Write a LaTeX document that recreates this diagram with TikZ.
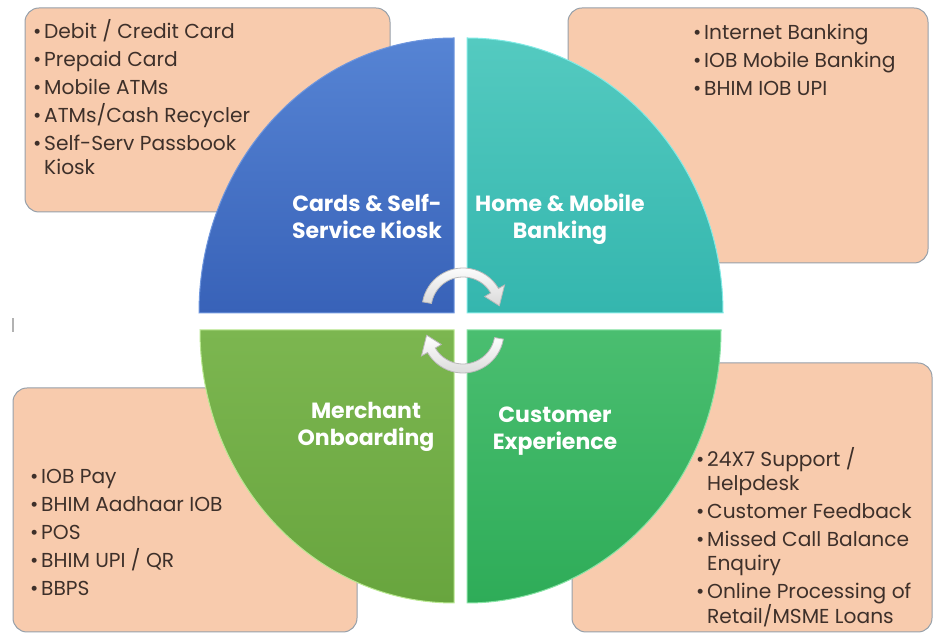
\documentclass[tikz,border=0pt]{standalone}
\usepackage{fontspec}
\setmainfont{Poppins}
\usepackage{xcolor}
\usetikzlibrary{positioning}

\definecolor{peach}{RGB}{248,203,173}
\definecolor{boxline}{RGB}{150,160,170}
\definecolor{ink}{RGB}{62,48,42}
\definecolor{bluetop}{RGB}{86,132,212}
\definecolor{bluebot}{RGB}{56,98,184}
\definecolor{bluerim}{RGB}{110,150,222}
\definecolor{tealtop}{RGB}{84,202,192}
\definecolor{tealbot}{RGB}{52,182,174}
\definecolor{tealrim}{RGB}{130,235,230}
\definecolor{lgrtop}{RGB}{124,182,80}
\definecolor{lgrbot}{RGB}{104,165,62}
\definecolor{lgrrim}{RGB}{185,232,145}
\definecolor{dgrtop}{RGB}{74,190,112}
\definecolor{dgrbot}{RGB}{46,172,88}
\definecolor{dgrrim}{RGB}{135,228,165}

\newcommand{\bul}{\makebox[11pt][l]{\textbullet}}
\newcommand{\ind}{\hspace*{11pt}}

\begin{document}
\begin{tikzpicture}[x=1pt,y=1pt,
	box/.style={rectangle, rounded corners=14pt, draw=boxline, line width=1pt, fill=peach, inner sep=0pt},
	list/.style={anchor=north west, inner sep=0pt, align=left, text=ink, font=\fontsize{20.2}{24}\selectfont},
	lbl/.style={align=center, inner sep=0pt, text=white, font=\bfseries\fontsize{22}{27}\selectfont},
	turn/.style={draw=gray!55, line width=0.8pt, top color=white, bottom color=gray!30}]
		\useasboundingbox (0,0) rectangle (938,637);
		
		% boxes behind the circle
		\node [box, minimum width=365pt, minimum height=204pt] (cb) at (207.5,527) {};
		\node [box, minimum width=360pt, minimum height=255pt] (hb) at (748,501.5) {};
		\node [box, minimum width=344pt, minimum height=244pt] (mb) at (185,127) {};
		\node [box, minimum width=360pt, minimum height=269pt] (eb) at (752,139.5) {};
		
		% four quarters
		\draw [draw=bluerim, line width=1pt, top color=bluetop, bottom color=bluebot] (454,324) -- (199,324) arc[start angle=180, end angle=90, x radius=255, y radius=275] -- cycle;
		\draw [draw=tealrim, line width=1pt, top color=tealtop, bottom color=tealbot] (467,324) -- (467,599) arc[start angle=90, end angle=0, x radius=256, y radius=275] -- cycle;
		\draw [draw=lgrrim, line width=1pt, top color=lgrtop, bottom color=lgrbot] (454,307) -- (200,307) arc[start angle=180, end angle=270, x radius=254, y radius=273] -- cycle;
		\draw [draw=dgrrim, line width=1pt, top color=dgrtop, bottom color=dgrbot] (467,307) -- (721,307) arc[start angle=0, end angle=-90, x radius=254, y radius=273] -- cycle;
		
		\node [lbl] (cards) at (367,420.5) {Cards \& Self-\\Service Kiosk};
		\node [lbl] (home) at (560,418) {Home \& Mobile\\Banking};
		\node [lbl] (merch) at (366,210) {Merchant\\Onboarding};
		\node [lbl] (cust) at (555,206) {Customer\\Experience};
		
		% cycle arrows
		\draw [turn, shift={(463,328)}] (170:41) arc[start angle=170, end angle=30, radius=41] -- (30:48) -- (5:36.5) -- (30:25) -- (30:32) arc[start angle=30, end angle=170, radius=32] -- cycle;
		\draw [turn, shift={(463,305)}, rotate=180] (170:41) arc[start angle=170, end angle=30, radius=41] -- (30:48) -- (5:36.5) -- (30:25) -- (30:32) arc[start angle=30, end angle=170, radius=32] -- cycle;
		
		\node [list] (cl) at (33,618) {\bul Debit / Credit Card\\[4pt]\bul Prepaid Card\\[4pt]\bul Mobile\ ATMs\\[4pt]\bul ATMs/Cash Recycler\\[4pt]\bul Self-Serv Passbook\\\ind Kiosk};
		\node [list] (hl) at (693,613) {\bul Internet Banking\\[4pt]\bul IOB Mobile\ Banking\\[4pt]\bul BHIM IOB UPI};
		\node [list] (ml) at (30,168) {\bul IOB Pay\\[4pt]\bul BHIM Aadhaar IOB\\[4pt]\bul POS\\[4pt]\bul BHIM UPI / QR\\[4pt]\bul BBPS};
		\node [list] (el) at (696,190) {\bul 24X7 Support /\\\ind Helpdesk\\[4pt]\bul Customer Feedback\\[4pt]\bul Missed Call Balance\\\ind Enquiry\\[4pt]\bul Online\ Processing of\\\ind Retail/MSME Loans};
		
		\draw [gray!60, line width=1.2pt] (13,305) -- (13,319);
	\end{tikzpicture}
\end{document}
